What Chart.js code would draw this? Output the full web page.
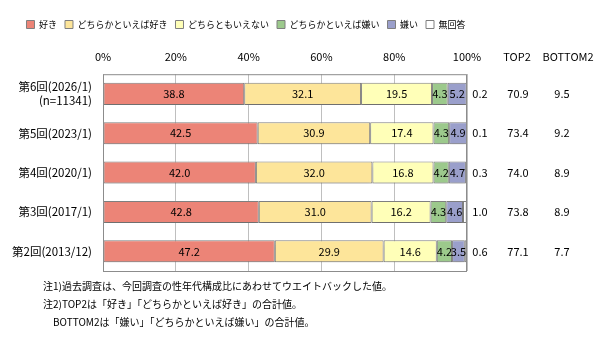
<!DOCTYPE html>
<html>
<head>
<meta charset="utf-8">
<script src="https://cdn.jsdelivr.net/npm/chart.js@4"></script>
<style>
  html, body { margin: 0; padding: 0; background: #fff; }
  #wrap { width: 602px; height: 345px; }
</style>
</head>
<body>
<div id="wrap"><canvas id="chart"></canvas></div>
<script>
const categories = [
  ['第6回(2026/1)', '(n=11341)'],
  '第5回(2023/1)',
  '第4回(2020/1)',
  '第3回(2017/1)',
  '第2回(2013/12)'
];
const seriesNames = ['好き', 'どちらかといえば好き', 'どちらともいえない', 'どちらかといえば嫌い', '嫌い', '無回答'];
const suki = [38.8, 42.5, 42.0, 42.8, 47.2];
const dochiSuki = [32.1, 30.9, 32.0, 31.0, 29.9];
const dochiMo = [19.5, 17.4, 16.8, 16.2, 14.6];
const dochiKirai = [4.3, 4.3, 4.2, 4.3, 4.2];
const kirai = [5.2, 4.9, 4.7, 4.6, 3.5];
const mukaitou = [0.2, 0.1, 0.3, 1.0, 0.6];
const top2 = [70.9, 73.4, 74.0, 73.8, 77.1];
const bottom2 = [9.5, 9.2, 8.9, 8.9, 7.7];
const xTicks = [0, 20, 40, 60, 80, 100];
const notes = [
  '注1)過去調査は、今回調査の性年代構成比にあわせてウエイトバックした値。',
  '注2)TOP2は「好き」「どちらかといえば好き」の合計値。',
  '　BOTTOM2は「嫌い」「どちらかといえば嫌い」の合計値。'
];

const FONT = '"Noto Sans CJK JP", "Noto Sans", sans-serif';
const colors = ['#ec8477', '#fde59a', '#ffffb8', '#9cc98c', '#9a9fcb', '#ffffff'];
const values = [suki, dochiSuki, dochiMo, dochiKirai, kirai, mukaitou];

const datasets = values.map((d, i) => ({
  label: seriesNames[i],
  data: d,
  backgroundColor: colors[i],
  borderColor: '#7f7f7f',
  borderWidth: 1,
  borderSkipped: false,
  categoryPercentage: 1,
  barPercentage: 0.56
}));

// soft shadow under the bars, like the original
const shadowPlugin = {
  id: 'shadow',
  beforeDatasetsDraw(chart) {
    const ctx = chart.ctx;
    const a = chart.chartArea;
    ctx.save();
    ctx.beginPath();
    ctx.rect(a.left, a.top, a.right - a.left, a.bottom - a.top);
    ctx.clip();
    ctx.shadowColor = 'rgba(0,0,0,0.13)';
    ctx.shadowBlur = 4;
    ctx.shadowOffsetY = 4;
  },
  afterDatasetsDraw(chart) {
    chart.ctx.restore();
    const ctx = chart.ctx;
    const a = chart.chartArea;
    ctx.save();
    ctx.strokeStyle = '#8c8c8c';
    ctx.lineWidth = 1;
    ctx.strokeRect(a.left + 0.5, a.top + 0.5, a.right - a.left - 1, a.bottom - a.top);
    ctx.restore();
  }
};

const labelPlugin = {
  id: 'labels',
  afterDraw(chart) {
    const ctx = chart.ctx;
    const y = chart.scales.y;
    ctx.save();
    ctx.font = '11px ' + FONT;
    ctx.fillStyle = '#000';
    ctx.textBaseline = 'middle';
    ctx.textAlign = 'center';
    chart.data.datasets.forEach((ds, di) => {
      const meta = chart.getDatasetMeta(di);
      meta.data.forEach((bar, i) => {
        const v = ds.data[i];
        if (di === 5) {
          ctx.fillText(v.toFixed(1), 480, bar.y);
        } else {
          const cx = (bar.base + bar.x) / 2;
          ctx.fillText(v.toFixed(1), cx, bar.y);
        }
      });
    });
    ctx.fillText('TOP2', 517, 57);
    ctx.fillText('BOTTOM2', 568, 57);
    top2.forEach((v, i) => {
      ctx.fillText(v.toFixed(1), 518, y.getPixelForValue(i));
    });
    bottom2.forEach((v, i) => {
      ctx.fillText(v.toFixed(1), 562, y.getPixelForValue(i));
    });
    ctx.textAlign = 'left';
    ctx.font = '10px ' + FONT;
    const ny = [286, 304, 322];
    notes.forEach((t, i) => ctx.fillText(t, 43, ny[i]));
    ctx.restore();
  }
};

new Chart(document.getElementById('chart'), {
  type: 'bar',
  data: { labels: categories, datasets: datasets },
  options: {
    indexAxis: 'y',
    responsive: true,
    maintainAspectRatio: false,
    animation: false,
    layout: { padding: { top: 12, right: 110, bottom: 74, left: 0 } },
    scales: {
      x: {
        position: 'top',
        stacked: true,
        min: 0,
        max: 100,
        afterBuildTicks(scale) {
          scale.ticks = xTicks.map(v => ({ value: v }));
        },
        ticks: {
          callback: v => v + '%',
          font: { family: FONT, size: 11 },
          color: '#000',
          padding: 11,
          maxRotation: 0
        },
        grid: { color: '#bfbfbf', drawTicks: false },
        border: { display: false }
      },
      y: {
        stacked: true,
        afterFit(scale) { scale.width = 103; },
        ticks: {
          font: { family: FONT, size: 11.5 },
          color: '#000',
          padding: 11
        },
        grid: { display: false, drawTicks: false },
        border: { display: false }
      },
      // empty right axis: keeps room for the side columns
      side: {
        type: 'linear',
        position: 'right',
        afterFit(scale) { scale.width = 25; },
        ticks: { display: false },
        grid: { display: false, drawTicks: false },
        border: { display: false }
      }
    },
    plugins: {
      legend: {
        position: 'top',
        align: 'center',
        labels: {
          boxWidth: 8,
          boxHeight: 8,
          padding: 8,
          color: '#000',
          font: { family: FONT, size: 9 }
        }
      },
      tooltip: { enabled: false }
    }
  },
  plugins: [shadowPlugin, labelPlugin]
});
</script>
</body>
</html>
